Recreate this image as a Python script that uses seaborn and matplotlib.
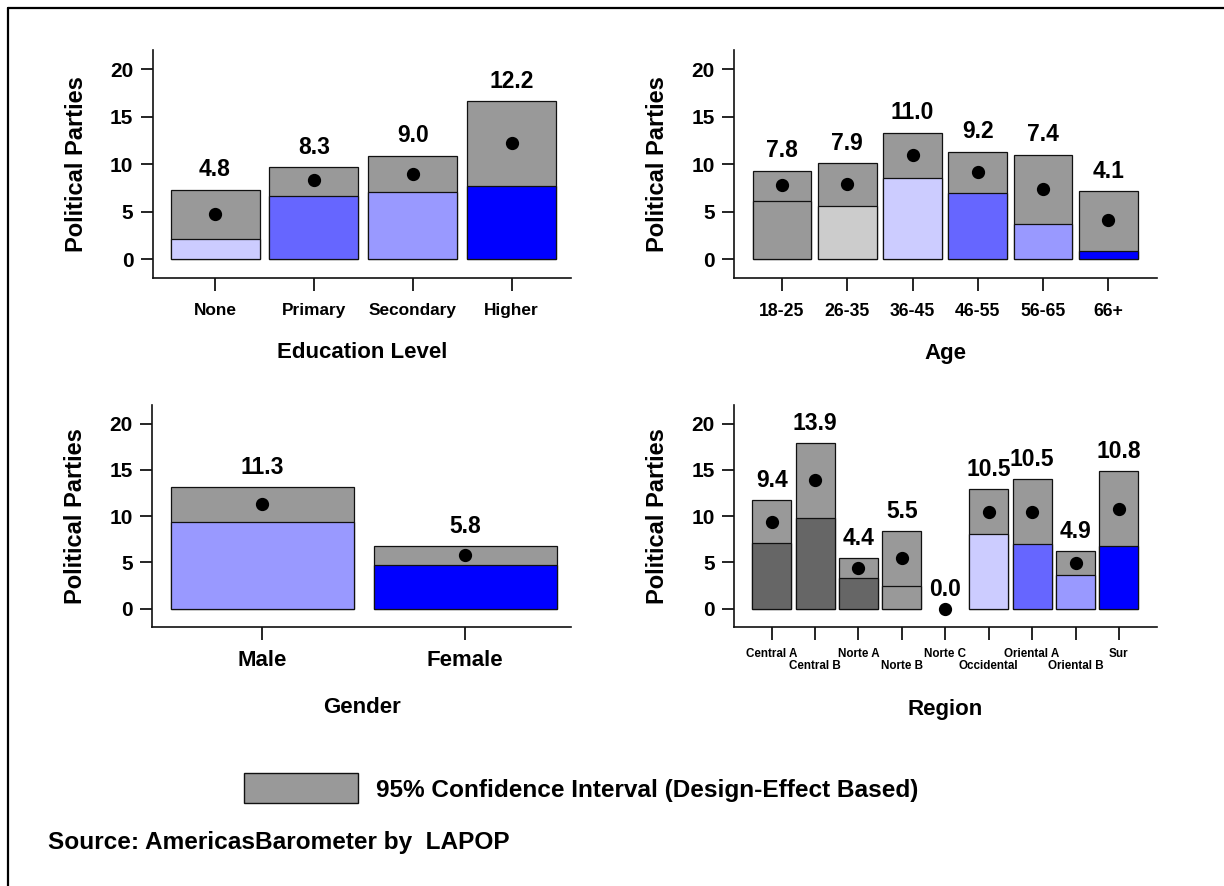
import numpy as np
import pandas as pd
import matplotlib
matplotlib.use("Agg")
import matplotlib.pyplot as plt
from matplotlib.lines import Line2D
from matplotlib.patches import Rectangle
import seaborn as sns

# ---------------- data ----------------
edu_cats = ["None", "Primary", "Secondary", "Higher"]
edu_mean = [4.8, 8.3, 9.0, 12.2]
edu_low = [2.1, 6.7, 7.05, 7.7]
edu_high = [7.3, 9.7, 10.9, 16.6]

age_cats = ["18-25", "26-35", "36-45", "46-55", "56-65", "66+"]
age_mean = [7.8, 7.9, 11.0, 9.2, 7.4, 4.1]
age_low = [6.15, 5.6, 8.55, 6.95, 3.7, 0.9]
age_high = [9.3, 10.1, 13.3, 11.3, 11.0, 7.15]

gen_cats = ["Male", "Female"]
gen_mean = [11.3, 5.8]
gen_low = [9.4, 4.75]
gen_high = [13.1, 6.8]

reg_cats = ["Central A", "Central B", "Norte A", "Norte B", "Norte C",
            "Occidental", "Oriental A", "Oriental B", "Sur"]
reg_mean = [9.4, 13.9, 4.4, 5.5, 0.0, 10.5, 10.5, 4.9, 10.8]
reg_low = [7.1, 9.85, 3.35, 2.5, np.nan, 8.1, 6.95, 3.65, 6.75]
reg_high = [11.7, 17.95, 5.5, 8.45, np.nan, 12.9, 14.0, 6.2, 14.85]

# ---------------- styles ----------------
edu_pal = ["#ccccff", "#6666ff", "#9999ff", "#0000ff"]
age_pal = ["#999999", "#cccccc", "#ccccff", "#6666ff", "#9999ff", "#0000ff"]
gen_pal = ["#9999ff", "#0000ff"]
reg_pal = ["#666666", "#666666", "#666666", "#999999", "#999999",
           "#ccccff", "#6666ff", "#9999ff", "#0000ff"]
CI_GRAY = "#999999"

sns.set_theme(style="ticks")
plt.rcParams["font.family"] = ["Liberation Sans", "DejaVu Sans"]
plt.rcParams["font.weight"] = "bold"
for k in ["text.color", "axes.labelcolor", "xtick.color", "ytick.color"]:
    plt.rcParams[k] = "black"

fig = plt.figure(figsize=(12.24, 8.86), dpi=100)

W, H = 1224.0, 886.0


def rect(l, r, t, b):
    return [l / W, 1 - b / H, (r - l) / W, (b - t) / H]


def panel(pos, cats, mean, low, high, pal, xlabel, xtick_size,
          stagger=False, xlim_pad=(0.63, 0.6), tick_pad=9, xlabel_pad=20):
    ax = fig.add_axes(pos)
    df = pd.DataFrame({"cat": cats, "mean": mean, "low": low, "high": high})
    palette = dict(zip(cats, pal))
    sns.barplot(data=df, x="cat", y="high", order=cats, color=CI_GRAY,
                saturation=1, width=0.9, errorbar=None, edgecolor="#111111",
                linewidth=0.9, ax=ax)
    sns.barplot(data=df, x="cat", y="low", order=cats, hue="cat",
                palette=palette, saturation=1, legend=False, width=0.9,
                errorbar=None, edgecolor="#111111", linewidth=0.9, ax=ax)
    sns.pointplot(data=df, x="cat", y="mean", order=cats, color="black",
                  linestyle="none", marker="o", markersize=7.5,
                  errorbar=None, ax=ax, zorder=5)
    for i, (m, h) in enumerate(zip(mean, high)):
        top = h if not np.isnan(h) else m
        ax.text(i, top + 2.1, f"{m:.1f}", ha="center", va="center",
                fontsize=16.5, fontweight="bold", color="black")
    ax.set_ylim(-2, 22)
    ax.set_xlim(-xlim_pad[0], len(cats) - 1 + xlim_pad[1])
    ax.set_yticks([0, 5, 10, 15, 20])
    ax.set_ylabel("Political Parties", fontsize=17, fontweight="bold",
                  labelpad=16)
    ax.set_xlabel(xlabel, fontsize=16, fontweight="bold", labelpad=xlabel_pad)
    ax.set_xticks(range(len(cats)))
    ax.set_xticklabels(cats, fontsize=xtick_size, fontweight="bold")
    ax.tick_params(axis="y", labelsize=15, length=9, width=1.2, pad=5,
                   direction="out")
    ax.tick_params(axis="x", length=9, width=1.2, pad=tick_pad,
                   direction="out")
    if stagger:
        for i, t in enumerate(ax.xaxis.get_major_ticks()):
            if i % 2 == 1:
                t.set_pad(tick_pad + 8.6)
    for lab in ax.get_yticklabels():
        lab.set_fontweight("bold")
    sns.despine(ax=ax)
    for s in ["left", "bottom"]:
        ax.spines[s].set_linewidth(1.2)
        ax.spines[s].set_color("#111111")
    ax.set_facecolor("white")
    return ax


panel(rect(152.7, 571, 50, 278.3), edu_cats, edu_mean, edu_low, edu_high,
      edu_pal, "Education Level", 12.4, xlim_pad=(0.63, 0.6), xlabel_pad=17)
panel(rect(734.3, 1156.7, 50, 278.3), age_cats, age_mean, age_low, age_high,
      age_pal, "Age", 12.7, xlim_pad=(0.73, 0.74), xlabel_pad=16)
panel(rect(152.3, 571, 405, 627.3), gen_cats, gen_mean, gen_low, gen_high,
      gen_pal, "Gender", 16, xlim_pad=(0.54, 0.52), tick_pad=7,
      xlabel_pad=19)
panel(rect(734.3, 1156.7, 405, 627.3), reg_cats, reg_mean, reg_low, reg_high,
      reg_pal, "Region", 8.4, stagger=True, xlim_pad=(0.86, 0.87),
      tick_pad=6, xlabel_pad=19.5)

# legend
fig.patches.append(Rectangle((244 / W, 1 - 803.3 / H), 113.7 / W, 30.6 / H,
                             transform=fig.transFigure, facecolor=CI_GRAY,
                             edgecolor="#111111", linewidth=1.0))
fig.text(376 / W, 1 - 790 / H, "95% Confidence Interval (Design-Effect Based)",
         fontsize=17.6, fontweight="bold", va="center", ha="left")
fig.text(48 / W, 1 - 843 / H, "Source: AmericasBarometer by  LAPOP",
         fontsize=17.6, fontweight="bold", va="center", ha="left")

# frame
fig.add_artist(Line2D([8 / W, 1.0], [1 - 8 / H, 1 - 8 / H],
                      transform=fig.transFigure, color="black", linewidth=1.6))
fig.add_artist(Line2D([8 / W, 8 / W], [0.0, 1 - 8 / H],
                      transform=fig.transFigure, color="black", linewidth=1.6))

fig.savefig("out.png", dpi=100, facecolor="white")
